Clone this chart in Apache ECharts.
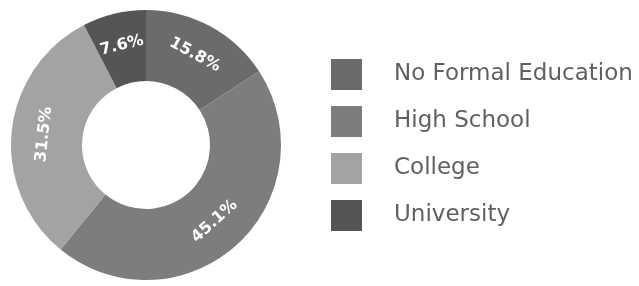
<!DOCTYPE html>
<html>
<head>
<meta charset="utf-8">
<script src="https://cdn.jsdelivr.net/npm/echarts@6/dist/echarts.min.js"></script>
<style>
  html, body { margin: 0; padding: 0; background: #fff; }
  #chart { width: 639px; height: 286px; }
</style>
</head>
<body>
<div id="chart"></div>
<script>
let categories = ['No Formal Education', 'High School', 'College', 'University']
let values = [15.8, 45.1, 31.5, 7.6]
let colors = ['#6b6b6b', '#7d7d7d', '#a3a3a3', '#555555']

let chart = echarts.init(document.getElementById('chart'))
let option = {
    animation: false,
    color: colors,
    legend: {
        orient: 'vertical',
        left: 331,
        top: 59,
        padding: 0,
        icon: 'rect',
        itemWidth: 31,
        itemHeight: 31,
        itemGap: 16,
        textStyle: {
            fontFamily: 'DejaVu Sans',
            fontSize: 23,
            color: '#606060',
            padding: [0, 0, 0, 27]
        },
        data: categories
    },
    series: [{
        type: 'pie',
        center: [146, 145],
        radius: [64, 135],
        startAngle: 90,
        clockwise: true,
        label: {
            show: true,
            position: 'inside',
            rotate: 'tangential',
            color: '#fff',
            fontFamily: 'DejaVu Sans',
            fontSize: 16,
            fontWeight: 'bold',
            formatter: p => p.value.toFixed(1) + '%'
        },
        labelLine: { show: false },
        data: categories.map((c, i) => ({ name: c, value: values[i] }))
    }]
}
chart.setOption(option)
</script>
</body>
</html>
